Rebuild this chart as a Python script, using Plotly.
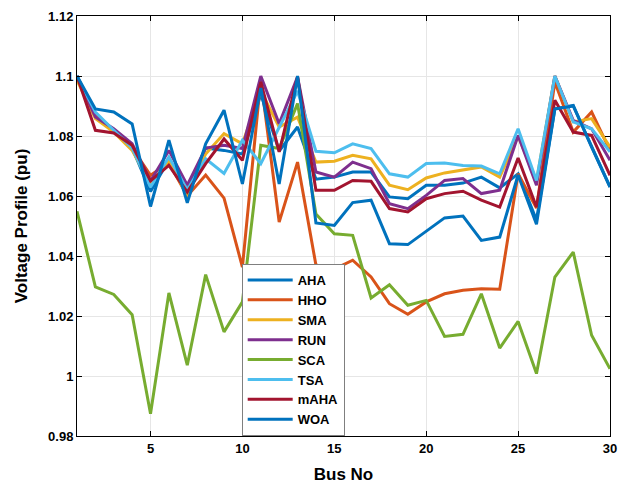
import plotly.graph_objects as go

bus = list(range(1, 31))

AHA = [1.100, 1.087, 1.082, 1.076, 1.0615, 1.072, 1.062, 1.076, 1.0752, 1.074,
       1.094, 1.075, 1.083, 1.0656, 1.0663, 1.068, 1.068, 1.0597, 1.0591, 1.0636,
       1.0636, 1.0643, 1.0663, 1.0627, 1.0674, 1.052, 1.0891, 1.0902, 1.0763, 1.063]
HHO = [1.099, 1.087, 1.082, 1.076, 1.0669, 1.071, 1.060, 1.067, 1.0593, 1.0363,
       1.099, 1.0513, 1.0713, 1.037, 1.0356, 1.0386, 1.033, 1.0241, 1.0206, 1.0247,
       1.0274, 1.0286, 1.0291, 1.0289, 1.0674, 1.056, 1.098, 1.0813, 1.088, 1.0752]
SMA = [1.0986, 1.0858, 1.0813, 1.0752, 1.064, 1.072, 1.060, 1.074, 1.0808, 1.0774,
       1.095, 1.083, 1.0863, 1.0713, 1.0716, 1.0736, 1.0724, 1.0636, 1.0621, 1.066,
       1.0677, 1.0686, 1.0697, 1.0663, 1.080, 1.065, 1.100, 1.0847, 1.0858, 1.0763]
RUN = [1.100, 1.0863, 1.0824, 1.0774, 1.065, 1.0752, 1.0636, 1.076, 1.0769, 1.0758,
       1.100, 1.0841, 1.0997, 1.068, 1.0663, 1.0713, 1.0691, 1.0574, 1.0558, 1.0602,
       1.0652, 1.0658, 1.0608, 1.0619, 1.0802, 1.0636, 1.100, 1.0852, 1.0824, 1.0719]
SCA = [1.0549, 1.0297, 1.0272, 1.0204, 0.9874, 1.0277, 1.0036, 1.0338, 1.0147, 1.0247,
       1.0769, 1.0758, 1.0908, 1.054, 1.0474, 1.0469, 1.026, 1.0304, 1.0236, 1.0252,
       1.0132, 1.0139, 1.0274, 1.0093, 1.0182, 1.0008, 1.033, 1.0413, 1.0136, 1.0024]
TSA = [1.100, 1.088, 1.0819, 1.076, 1.063, 1.073, 1.062, 1.0724, 1.0675, 1.0786,
       1.0708, 1.083, 1.095, 1.0749, 1.0744, 1.0774, 1.0758, 1.0674, 1.0663, 1.0708,
       1.071, 1.0702, 1.070, 1.0674, 1.0824, 1.0652, 1.100, 1.0847, 1.0824, 1.0747]
mAHA = [1.100, 1.0819, 1.081, 1.0769, 1.065, 1.0702, 1.0613, 1.0708, 1.079, 1.0719,
        1.098, 1.0747, 1.0997, 1.0619, 1.0619, 1.0652, 1.0649, 1.0558, 1.0547, 1.0591,
        1.0608, 1.0616, 1.0586, 1.0563, 1.0727, 1.0563, 1.0919, 1.0813, 1.0802, 1.0669]
WOA = [1.100, 1.089, 1.088, 1.084, 1.0565, 1.0786, 1.0577, 1.0774, 1.0886, 1.064,
       1.096, 1.064, 1.100, 1.051, 1.0502, 1.0578, 1.0586, 1.0441, 1.0438, 1.0482,
       1.0527, 1.0533, 1.0452, 1.0463, 1.067, 1.0506, 1.089, 1.090, 1.0763, 1.063]

series_names = ["AHA", "HHO", "SMA", "RUN", "SCA", "TSA", "mAHA", "WOA"]
series_vals = [AHA, HHO, SMA, RUN, SCA, TSA, mAHA, WOA]
colors = ["#0072BD", "#D95319", "#EDB120", "#7E2F8E", "#77AC30", "#4DBEEE", "#A2142F", "#0072BD"]

x_ticks = [5, 10, 15, 20, 25, 30]
y_ticks = [0.98, 1.0, 1.02, 1.04, 1.06, 1.08, 1.1, 1.12]
y_ticktext = ["0.98", "1", "1.02", "1.04", "1.06", "1.08", "1.1", "1.12"]

FONT = "Liberation Sans"

fig = go.Figure()
for name, vals, c in zip(series_names, series_vals, colors):
    fig.add_trace(go.Scatter(x=bus, y=vals, mode="lines", name=name,
                             line=dict(color=c, width=3)))

axis_common = dict(
    showline=True, linecolor="black", linewidth=1, mirror="ticks",
    ticks="inside", ticklen=5, tickcolor="black",
    showgrid=True, gridcolor="#e6e6e6", gridwidth=1,
    zeroline=False, ticklabeloverflow="allow", automargin=False,
    tickfont=dict(family=FONT, size=13, color="black", weight="bold"),
)

fig.update_layout(
    width=619, height=487,
    margin=dict(l=77, r=9, t=16, b=51),
    paper_bgcolor="white", plot_bgcolor="white",
    xaxis=dict(range=[1, 30], tickvals=x_ticks,
               title=dict(text="Bus No", font=dict(family=FONT, size=17, color="black", weight="bold"),
                          standoff=13),
               **axis_common),
    yaxis=dict(range=[0.98, 1.12], tickvals=y_ticks, ticktext=y_ticktext,
               title=dict(text="Voltage Profile (pu)", font=dict(family=FONT, size=17, color="black", weight="bold"),
                          standoff=16),
               **axis_common),
    legend=dict(x=0.309, y=0.0, xanchor="left", yanchor="bottom",
                bgcolor="white", bordercolor="#7f7f7f", borderwidth=1,
                font=dict(family=FONT, size=13, color="black", weight="bold"),
                itemwidth=45, tracegroupgap=0),
    showlegend=True,
)

fig.write_html("out.html")
